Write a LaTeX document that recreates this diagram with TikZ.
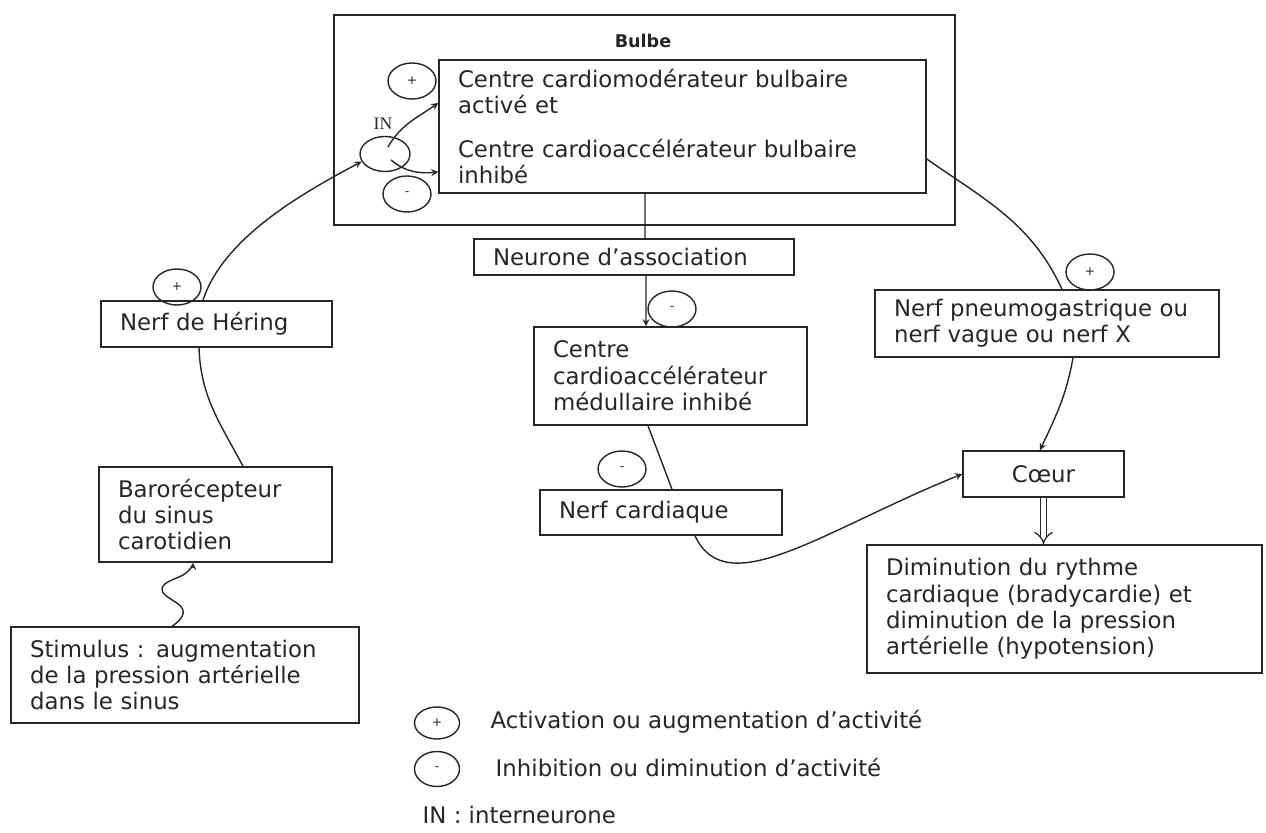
\documentclass[tikz,border=0pt]{standalone}
\usepackage{fontspec}
\setmainfont{DejaVu Sans}
\newfontfamily\serifIN{Liberation Serif}
\usetikzlibrary{shapes.geometric,arrows.meta}

\begin{document}
\begin{tikzpicture}[>=stealth, line width=0.8pt, draw=black!85, text=black!85,
    boite/.style={draw, line width=0.9pt, align=left, inner xsep=0.38cm, inner ysep=0pt,
      font=\fontsize{13}{15}\selectfont},
    signe/.style={draw, ellipse, inner sep=0pt, minimum width=0.96cm,
      minimum height=0.72cm, font=\scriptsize},
    legende/.style={anchor=west, inner sep=0pt, font=\fontsize{13}{15}\selectfont}]
    \def\x{0.02}
    \def\y{-0.02}
    \useasboundingbox (0,0) rectangle (1266*\x, 833*\y);
    % bulbe
    \node[boite, minimum width=12.42cm, minimum height=4.2cm] (bulbe) at (644.5*\x, 120*\y) {};
    \node[font=\bfseries\fontsize{10}{12}\selectfont] (titre) at (643*\x, 41*\y) {Bulbe};
    \node[boite, text width=8.98cm, minimum height=2.66cm] (centres) at (682.5*\x, 126.5*\y)
      {Centre cardiomodérateur bulbaire\\activé et\\[10pt]Centre cardioaccélérateur bulbaire\\inhibé};
    \node[signe] (P1) at (412*\x, 81*\y) {+};
    \node[signe, minimum width=1cm, minimum height=0.7cm] (inC) at (385*\x, 154*\y) {};
    \node[signe] (M1) at (407*\x, 194*\y) {-};
    \node[font=\serifIN\fontsize{10}{12}\selectfont, inner sep=0pt] (IN) at (383*\x, 124*\y) {IN};
    % voie centrale
    \node[boite, text width=5.64cm, minimum height=0.72cm] (assoc) at (634*\x, 257*\y) {Neurone d'association};
    \node[boite, text width=4.70cm, minimum height=1.96cm] (medul) at (670.5*\x, 376*\y)
      {Centre\\cardioaccélérateur\\médullaire inhibé};
    \node[signe] (M2) at (672*\x, 309*\y) {-};
    \node[boite, text width=4.08cm, minimum height=0.9cm] (cardiaque) at (661*\x, 512.5*\y) {Nerf cardiaque};
    \node[signe] (M3) at (622*\x, 469*\y) {-};
    % voie droite
    \node[boite, text width=6.12cm, minimum height=1.34cm] (pneumo) at (1047*\x, 323.5*\y)
      {Nerf pneumogastrique ou\\nerf vague ou nerf X};
    \node[signe] (P3) at (1090*\x, 272*\y) {+};
    \node[boite, text width=2.46cm, minimum height=0.92cm, align=center] (coeur) at (1043.5*\x, 474*\y) {Cœur};
    \node[boite, text width=7.14cm, minimum height=2.56cm] (dimin) at (1064.5*\x, 609*\y)
      {Diminution du rythme\\cardiaque (bradycardie) et\\diminution de la pression\\artérielle (hypotension)};
    % voie gauche
    \node[boite, text width=3.86cm, minimum height=0.92cm] (hering) at (216.5*\x, 324*\y) {Nerf de Héring};
    \node[signe] (P2) at (177*\x, 287*\y) {+};
    \node[boite, text width=3.90cm, minimum height=1.9cm] (baro) at (215.5*\x, 514.5*\y)
      {Barorécepteur\\du sinus\\carotidien};
    \node[boite, text width=6.20cm, minimum height=1.92cm] (stim) at (185*\x, 675*\y)
      {Stimulus : augmentation\\de la pression artérielle\\dans le sinus};
    % legende
    \node[signe, minimum width=0.9cm, minimum height=0.64cm] (LP) at (437*\x, 723*\y) {+};
    \node[signe, minimum width=0.9cm, minimum height=0.7cm] (LM) at (437*\x, 769*\y) {-};
    \node[legende] (L1) at (490*\x, 722*\y) {Activation ou augmentation d'activité};
    \node[legende] (L2) at (495*\x, 768*\y) {Inhibition ou diminution d'activité};
    \node[legende] (L3) at (422*\x, 815*\y) {IN : interneurone};
    % liaisons
    \path (stim.north) ++(-0.26,0) coordinate (s0);
    \path (baro.south) ++(-0.45,0) coordinate (b0);
    \draw[->] plot[smooth, tension=0.8] coordinates {(s0) (183*\x, 610*\y) (162*\x, 589*\y) (186*\x, 573*\y) (b0)};
    \path ([xshift=-0.35cm]hering.south) edge [out=-88, in=118] ([xshift=0.55cm]baro.north);
    \path ([xshift=-0.27cm]hering.north) edge [->, out=72, in=208, looseness=0.8] (inC.198);
    \path ([shift={(0.06,0.14)}]inC.center) edge [->, out=60, in=215] ([yshift=0.47cm]centres.west);
    \path ([shift={(0.12,-0.12)}]inC.center) edge [->, out=-40, in=185] ([yshift=-0.91cm]centres.west);
    \path ([xshift=-0.75cm]centres.south) edge ([xshift=0.22cm]assoc.north);
    \path ([xshift=0.24cm]assoc.south) edge [->] ([xshift=-0.49cm]medul.north);
    \path ([xshift=-0.45cm]medul.south) edge ([xshift=0.22cm]cardiaque.north);
    \path ([xshift=0.68cm]cardiaque.south) edge [->, out=-65, in=202, out looseness=0.7, in looseness=1.4] (coeur.west);
    \path ([yshift=-0.65cm]centres.east) edge [out=-35, in=115] ([xshift=0.3cm]pneumo.north);
    \path ([xshift=0.52cm]pneumo.south) edge [->, out=-100, in=65] ([xshift=-0.07cm]coeur.north);
    \path (coeur.south) edge [double, double distance=3pt, line width=0.7pt, -{Implies}] (coeur.south |- dimin.north);
\end{tikzpicture}
\end{document}
